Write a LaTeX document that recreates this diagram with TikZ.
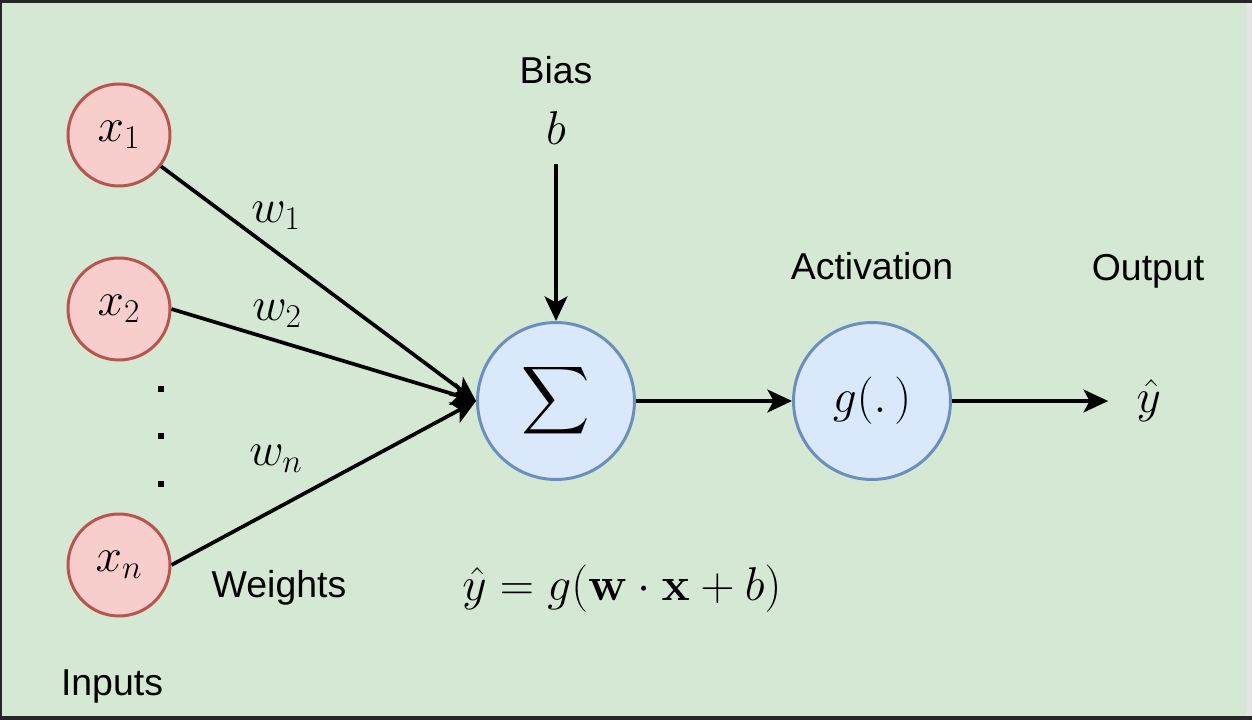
\RequirePackage{fix-cm}
\documentclass[tikz,border=0pt]{standalone}
\usepackage[no-math]{fontspec}
\usepackage{amsmath,amssymb}
\usepackage{xcolor}
\usetikzlibrary{arrows.meta,positioning}
\newfontfamily\labelfont{Liberation Sans}
\definecolor{bggreen}{HTML}{D5E8D4}
\definecolor{infill}{HTML}{F8CECC}
\definecolor{indraw}{HTML}{B85450}
\definecolor{unitfill}{HTML}{DAE8FC}
\definecolor{unitdraw}{HTML}{6C8EBF}

\begin{document}
\begin{tikzpicture}[x=0.02cm, y=-0.02cm, line width=1.7pt,
  input/.style={circle, draw=indraw, fill=infill, minimum size=2.04cm, inner sep=0pt,
    font=\fontsize{27}{32}\selectfont},
  unit/.style={circle, draw=unitdraw, fill=unitfill, minimum size=3.14cm, inner sep=0pt,
    font=\fontsize{27}{32}\selectfont},
  lbl/.style={font=\labelfont\fontsize{21.3}{25}\selectfont, anchor=base, inner sep=0pt},
  mth/.style={font=\fontsize{27}{32}\selectfont, anchor=base, inner sep=0pt},
  arr/.style={line width=2.1pt, -{Stealth[length=14pt,width=13pt,inset=3.5pt]}}]
% Frame and background
\fill[black!85] (0,0) rectangle (1252,720);
\fill[bggreen] (2,3) rectangle (1247,716);
\fill[black!10] (1247,3) rectangle (1252,716);
\useasboundingbox (0,0) rectangle (1252,720);
% Inputs
\node[input] (x1) at (119,135) {$x_1$};
\node[input] (x2) at (119,309) {$x_2$};
\node[input] (xn) at (119,565) {$x_n$};
\foreach \y in {388.7,435.7,483.7} {
    \fill (157.5,\y-3) rectangle (163.5,\y+3);
}
% Summation and activation
\node[unit] (sum) at (556,401) {$\displaystyle\sum$};
\node[unit] (g) at (872,401) {$g(.\,)$};
\node[mth] (b) at (556,144) {$b$};
\node[mth, anchor=west] (yhat) at (1135,401) {$\hat{y}$};
% Connectors
\draw[arr] (x1) -- (sum.west);
\draw[arr] (x2.east) -- (sum.west);
\draw[arr] (xn.east) -- (sum.west);
\draw[arr, shorten <=10.8pt] (b) -- (sum);
\draw[arr] (sum) -- (g);
\draw[arr, shorten >=15.3pt] (g) -- (yhat);
% Weight labels
\node[mth] (w1) at (276,222) {$w_1$};
\node[mth] (w2) at (277,320) {$w_2$};
\node[mth] (wn) at (276,465) {$w_n$};
% Text labels
\node[lbl] (bias) at (556,83) {Bias};
\node[lbl] (act) at (872,279) {Activation};
\node[lbl] (out) at (1148,280) {Output};
\node[lbl] (wts) at (279,597) {Weights};
\node[lbl] (inp) at (112,695) {Inputs};
\node[mth] (eq) at (622,600) {$\hat{y} = g(\mathbf{w}\cdot\mathbf{x}+b)$};
\end{tikzpicture}
\end{document}
